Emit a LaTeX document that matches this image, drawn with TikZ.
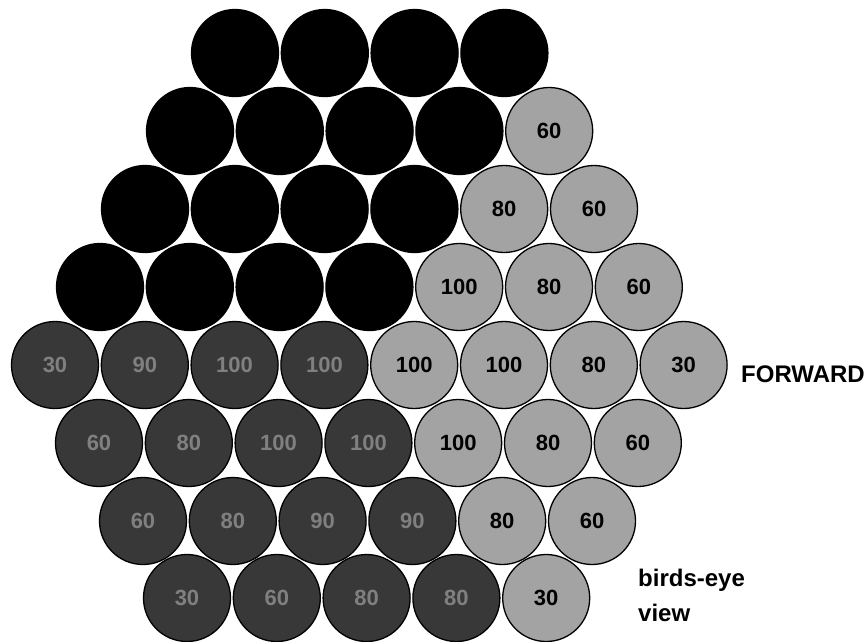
\documentclass[tikz,border=0pt]{standalone}
\usepackage{fontspec}
\setmainfont{Liberation Sans}
\begin{document}
\begin{tikzpicture}[x=1pt,y=-1pt]
\tikzset{
  cell/.style={circle, minimum size=87pt, inner sep=0pt, draw=black, line width=1.3pt,
               font=\bfseries\fontsize{22}{22}\selectfont},
  blk/.style={cell, fill=black},
  drk/.style={cell, fill=black!78, text=black!50},
  lgt/.style={cell, fill=black!36, text=black},
  lbl/.style={anchor=base west, inner sep=0pt, font=\bfseries\fontsize{24}{24}\selectfont},
}
\useasboundingbox (0,0) rectangle (868,641);
% row 0
\foreach \k in {0,...,3} \node[blk] (r0c\k) at ({235+89.8*\k},53) {};
% row 1
\foreach \k in {0,...,3} \node[blk] (r1c\k) at ({190+89.8*\k},131) {};
\node[lgt] (r1c4) at ({190+89.8*4},131) {60};
% row 2
\foreach \k in {0,...,3} \node[blk] (r2c\k) at ({145+89.8*\k},209) {};
\foreach \k/\v in {4/80,5/60} \node[lgt] (r2c\k) at ({145+89.8*\k},209) {\v};
% row 3
\foreach \k in {0,...,3} \node[blk] (r3c\k) at ({100+89.8*\k},287) {};
\foreach \k/\v in {4/100,5/80,6/60} \node[lgt] (r3c\k) at ({100+89.8*\k},287) {\v};
% row 4
\foreach \k/\v in {0/30,1/90,2/100,3/100} \node[drk] (r4c\k) at ({55+89.8*\k},365) {\v};
\foreach \k/\v in {4/100,5/100,6/80,7/30} \node[lgt] (r4c\k) at ({55+89.8*\k},365) {\v};
% row 5
\foreach \k/\v in {0/60,1/80,2/100,3/100} \node[drk] (r5c\k) at ({99+89.8*\k},443) {\v};
\foreach \k/\v in {4/100,5/80,6/60} \node[lgt] (r5c\k) at ({99+89.8*\k},443) {\v};
% row 6
\foreach \k/\v in {0/60,1/80,2/90,3/90} \node[drk] (r6c\k) at ({143+89.8*\k},521) {\v};
\foreach \k/\v in {4/80,5/60} \node[lgt] (r6c\k) at ({143+89.8*\k},521) {\v};
% row 7
\foreach \k/\v in {0/30,1/60,2/80,3/80} \node[drk] (r7c\k) at ({187+89.8*\k},598) {\v};
\node[lgt] (r7c4) at ({187+89.8*4},598) {30};
% labels
\node[lbl] (fwd) at (741,382) {FORWARD};
\node[lbl] (be) at (638,586) {birds-eye};
\node[lbl] (vw) at (638,621) {view};
\end{tikzpicture}
\end{document}
